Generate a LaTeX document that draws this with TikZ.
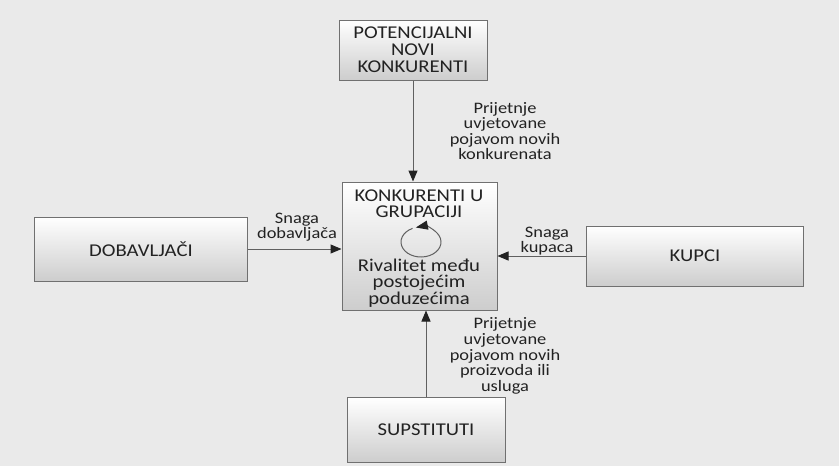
\documentclass[tikz,border=0pt]{standalone}
\usepackage{fontspec}
\setmainfont{Carlito}[FakeStretch=1.15]
\usepackage{tikz}
\usetikzlibrary{positioning,arrows.meta}
\definecolor{paper}{HTML}{EAEAEA}
\definecolor{boxline}{HTML}{707070}
\definecolor{boxlow}{HTML}{CDCDCD}
\definecolor{ink}{HTML}{222222}
\definecolor{wire}{HTML}{606060}
\tikzset{
	force/.style={draw=boxline,
			top color=white,
			bottom color=boxlow,
			text=ink,
			align=center,
			inner sep=0pt,
			line width=0.5pt,
			font=\fontsize{9}{8.6}\selectfont
		},
	inbox/.style={text=ink, align=center, inner sep=0pt},
	note/.style={text=ink, align=center, inner sep=0pt,
			font=\fontsize{8}{7.8}\selectfont},
	flow/.style={draw=wire, line width=0.5pt,
			-{Triangle[length=5.5pt,width=4.5pt,color=ink]}}
}

\begin{document}
\begin{tikzpicture}[x=0.5pt,y=-0.5pt]
		\fill[paper] (0,0) rectangle (839,466);
		\useasboundingbox (0,0) rectangle (839,466);

		% Rivalry in the group
		\node[force,
			minimum width=77.5pt,
			minimum height=64pt
		] (konk) at (419.5,246) {};

		\node[inbox,
			font=\fontsize{9}{8}\selectfont
		] (konktitle) at (419,204) {KONKURENTI U\\GRUPACIJI};

		\node[inbox,
			font=\fontsize{9}{8.2}\selectfont
		] (riv) at (419,283) {Rivalitet među\\postojećim\\poduzećima};

		\coordinate (rot) at (421,242);
		\draw[wire, line width=0.5pt, -{Triangle[length=6pt,width=4.5pt,color=ink]}]
		([shift={(115:10pt and 7.5pt)}]rot)
		arc[start angle=115, end angle=465, x radius=10pt, y radius=7.5pt];

		% New entrants
		\node[force,
			minimum width=74pt,
			minimum height=30pt
		] (pot) at (413,50) {POTENCIJALNI\\NOVI\\KONKURENTI};

		% Suppliers
		\node[force,
			minimum width=106.5pt,
			minimum height=32pt
		] (dob) at (141,249) {DOBAVLJAČI};

		% Buyers
		\node[force,
			minimum width=108.5pt,
			minimum height=30pt
		] (kup) at (695,256) {KUPCI};

		% Substitutes
		\node[force,
			minimum width=79pt,
			minimum height=32.5pt
		] (sup) at (426,430) {SUPSTITUTI};

		% Arrows with text label
		\draw[flow] (pot.south) -- (pot.south |- konk.north);
		\node[note] (potlbl) at (505,131) {Prijetnje\\uvjetovane\\pojavom novih\\konkurenata};

		\draw[flow] (dob.east) -- (dob.east -| konk.west);
		\node[note] (doblbl) at (297,227) {Snaga\\dobavljača};

		\draw[flow] (kup.west) -- (kup.west -| konk.east);
		\node[note] (kuplbl) at (547,241) {Snaga\\kupaca};

		\draw[flow] (sup.north) -- (sup.north |- konk.south);
		\node[note] (suplbl) at (505,356) {Prijetnje\\uvjetovane\\pojavom novih\\proizvoda ili\\usluga};
	\end{tikzpicture}
\end{document}
